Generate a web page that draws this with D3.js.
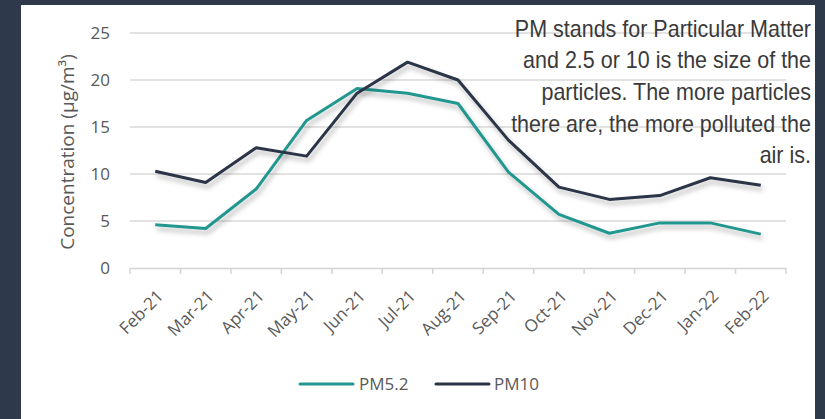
<!DOCTYPE html>
<html><head><meta charset="utf-8">
<script src="https://cdn.jsdelivr.net/npm/d3@7"></script>
<style>
html,body{margin:0;padding:0;background:#2e394b;}
svg{display:block;}
</style></head>
<body>
<svg id="chart" width="825" height="419"></svg>
<script>
const categories = ["Feb-21","Mar-21","Apr-21","May-21","Jun-21","Jul-21","Aug-21","Sep-21","Oct-21","Nov-21","Dec-21","Jan-22","Feb-22"];
const pm52 = [4.6, 4.2, 8.4, 15.7, 19.1, 18.6, 17.5, 10.2, 5.7, 3.7, 4.8, 4.8, 3.6];
const pm10 = [10.3, 9.1, 12.8, 11.9, 18.6, 21.9, 20.0, 13.6, 8.6, 7.3, 7.7, 9.6, 8.8];
const yTicks = [0, 5, 10, 15, 20, 25];
const seriesNames = ["PM5.2", "PM10"];
const seriesColors = ["#22978f", "#2b3447"];
const noteLines = ["PM stands for Particular Matter","and 2.5 or 10 is the size of the","particles. The more particles","there are, the more polluted the","air is."];

const svg = d3.select("#chart");
const font = "'Open Sans', sans-serif";
const textCol = "#595959";

// white panel
svg.append("rect").attr("x",21).attr("y",5).attr("width",794).attr("height",414).attr("fill","#ffffff");

const defs = svg.append("defs");
const f = defs.append("filter").attr("id","sh").attr("x","-10%").attr("y","-20%").attr("width","130%").attr("height","160%");
f.append("feDropShadow").attr("dx",2).attr("dy",4).attr("stdDeviation",2.5).attr("flood-color","#000").attr("flood-opacity",0.28);

const x = d3.scaleBand().domain(categories).range([130, 786]);
const y = d3.scaleLinear().domain([0, 25]).range([268, 33]);

// gridlines
svg.append("g").selectAll("line").data(yTicks.filter(d=>d>0)).join("line")
  .attr("x1",130).attr("x2",786).attr("y1",d=>y(d)).attr("y2",d=>y(d))
  .attr("stroke","#d9d9d9").attr("stroke-width",1.5);

// y axis
const ya = svg.append("g").attr("transform","translate(110,0)")
  .call(d3.axisLeft(y).tickValues(yTicks).tickSize(0).tickPadding(0));
ya.select(".domain").remove();
ya.selectAll("text").attr("font-family",font).attr("font-size",17).attr("fill",textCol);

// x axis
const xa = svg.append("g").attr("transform","translate(0,268)")
  .call(d3.axisBottom(x).tickSize(0));
xa.select(".domain").attr("stroke","#d4d4d4").attr("stroke-width",1.5);
xa.selectAll(".tick line").remove();
// boundary tick marks
const edges = categories.map(c=>x(c)).concat([x.range()[1]]);
svg.append("g").selectAll("line").data(edges).join("line")
  .attr("x1",d=>d).attr("x2",d=>d).attr("y1",268).attr("y2",274)
  .attr("stroke","#d4d4d4").attr("stroke-width",1.5);
xa.selectAll("text")
  .attr("font-family",font).attr("font-size",17).attr("fill",textCol)
  .attr("text-anchor","end")
  .attr("transform","translate(5,25) rotate(-45)")
  .attr("dy","0.35em").attr("y",0).attr("x",0);

// y title
svg.append("text").attr("transform","translate(74,152) rotate(-90)")
  .attr("text-anchor","middle").attr("font-family",font).attr("font-size",19).attr("fill",textCol)
  .text("Concentration (μg/m³)");

// lines
const line = d3.line().x((d,i)=>x(categories[i])+x.bandwidth()/2).y(d=>y(d));
[pm52, pm10].forEach((s,k)=>{
  svg.append("path").datum(s).attr("d",line).attr("fill","none")
    .attr("stroke",seriesColors[k]).attr("stroke-width",3).attr("stroke-linejoin","round")
    .attr("filter","url(#sh)");
});

// legend
const lg = svg.append("g");
[[300,359],[436,494]].forEach((p,k)=>{
  lg.append("line").attr("x1",p[0]).attr("x2",p[0]+53).attr("y1",384).attr("y2",384)
    .attr("stroke",seriesColors[k]).attr("stroke-width",3).attr("stroke-linecap","round");
  lg.append("text").attr("x",p[1]).attr("y",384).attr("dy","0.35em")
    .attr("font-family",font).attr("font-size",17).attr("fill",textCol).text(seriesNames[k]);
});

// annotation (condensed horizontally)
const noteBase = [37, 68, 100, 132, 163];
svg.append("g").selectAll("text").data(noteLines).join("text")
  .attr("transform",(d,i)=>`translate(811,${noteBase[i]}) scale(0.935,1)`)
  .attr("text-anchor","end")
  .attr("font-family","'Liberation Sans', Arial, sans-serif").attr("font-size",23).attr("fill","#3a3a3a")
  .text(d=>d);
</script>
</body></html>
